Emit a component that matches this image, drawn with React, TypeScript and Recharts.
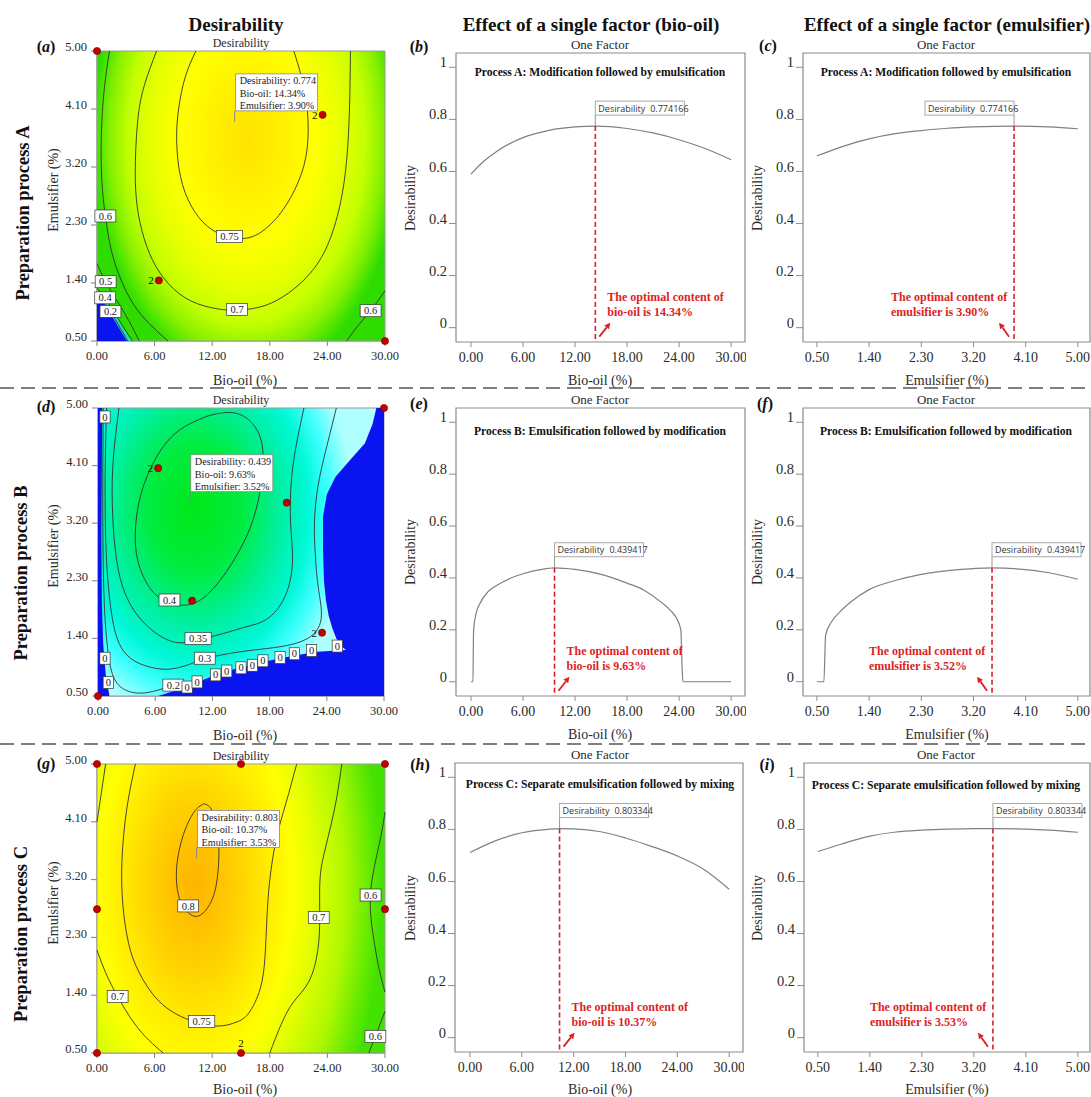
import React from "react";
import { ComposedChart, Line, Scatter, XAxis, YAxis, ReferenceLine } from "recharts";

const SERIF = '"Liberation Serif", "Times New Roman", serif';
const SANS = '"Open Sans", "DejaVu Sans", sans-serif';
const RED = "#dc1f26";
const INK = "#2b2b2b";

// axis ticks
const BIO_TICKS = [0, 6, 12, 18, 24, 30];
const EMU_TICKS = [0.5, 1.4, 2.3, 3.2, 4.1, 5.0];
const DES_TICKS = [0, 0.2, 0.4, 0.6, 0.8, 1];

// one-factor curves [factor, desirability]
const bioOilA = [[0, 0.59], [1.5, 0.64], [3, 0.678], [6, 0.73], [9, 0.758], [12, 0.771], [14.34, 0.774], [18, 0.765], [21, 0.748], [24, 0.722], [27, 0.688], [30, 0.645]];
const emulsA = [[0.5, 0.66], [0.8, 0.685], [1.1, 0.707], [1.4, 0.725], [1.85, 0.745], [2.3, 0.757], [2.75, 0.766], [3.2, 0.771], [3.9, 0.774], [4.5, 0.771], [5, 0.764]];
const bioOilB = [[0, 0], [0.22, 0], [0.3, 0.2], [0.6, 0.265], [1, 0.3], [2, 0.348], [3, 0.372], [4.5, 0.398], [6, 0.416], [8, 0.432], [9.63, 0.439], [12, 0.433], [15, 0.414], [18, 0.38], [20, 0.352], [22, 0.305], [23, 0.275], [23.7, 0.245], [24.2, 0.2], [24.35, 0.05], [24.45, 0], [30, 0]];
const emulsB = [[0.5, 0], [0.62, 0], [0.65, 0.18], [0.75, 0.23], [0.9, 0.27], [1.1, 0.31], [1.4, 0.355], [1.85, 0.39], [2.3, 0.414], [2.8, 0.429], [3.2, 0.436], [3.52, 0.439], [4, 0.434], [4.5, 0.42], [5, 0.395]];
const bioOilC = [[0, 0.711], [3, 0.757], [6, 0.787], [9, 0.8], [10.37, 0.803], [12, 0.802], [15, 0.792], [18, 0.767], [21, 0.735], [24, 0.698], [27, 0.648], [30, 0.57]];
const emulsC = [[0.5, 0.715], [0.9, 0.743], [1.4, 0.774], [1.85, 0.79], [2.3, 0.797], [2.75, 0.801], [3.2, 0.803], [3.53, 0.803], [4.1, 0.801], [4.5, 0.797], [5, 0.789]];

// contour lines [bio-oil, emulsifier]
const A_075 = [[10.3, 5], [9.2, 4.6], [8.5, 4.1], [8.3, 3.6], [8.7, 3.05], [9.8, 2.6], [11.5, 2.28], [13.5, 2.12], [15.2, 2.09], [17, 2.18], [19.2, 2.5], [21, 2.98], [21.9, 3.5], [21.9, 4.1], [21.3, 4.6], [20.5, 5]];
const A_070 = [[6.2, 5], [5.0, 4.5], [4.3, 4.0], [4.0, 3.3], [4.1, 2.7], [4.7, 2.2], [5.8, 1.75], [7.5, 1.38], [9.8, 1.12], [12.5, 1.0], [14.8, 0.98], [17.5, 1.05], [20, 1.25], [22.2, 1.55], [24, 1.98], [25.3, 2.6], [26, 3.3], [26.3, 4.1], [26.4, 5]];
const A_060 = [[1.3, 5], [0.75, 4.4], [0.45, 3.7], [0.5, 3.0], [0.87, 2.44], [1.5, 1.9], [2.5, 1.45], [3.8, 1.07], [5.5, 0.76], [7.4, 0.5]];
const A_060b = [[26, 0.5], [27.2, 0.74], [28.5, 0.97], [30, 1.28]];
const A_050 = [[0, 1.7], [0.9, 1.42], [2.1, 1.12], [3.3, 0.82], [4.4, 0.5]];
const A_040 = [[0, 1.32], [0.85, 1.17], [1.9, 0.92], [2.9, 0.68], [3.7, 0.5]];
const A_020 = [[0.3, 1.22], [1.4, 0.96], [2.4, 0.71], [3.2, 0.5]];
const A_band = [[0, 0.5], [0, 1.3], [0.85, 1.16], [1.9, 0.9], [2.9, 0.66], [3.6, 0.5]];
const A_zero = [[0, 0.5], [0, 1.2], [0.3, 1.19], [1.3, 0.95], [2.3, 0.7], [3.1, 0.5]];

const B_040 = [[11.4, 4.87], [8.5, 4.65], [6.2, 4.25], [4.5, 3.65], [3.9, 3.0], [4.4, 2.5], [5.8, 2.12], [7.5, 1.96], [9.2, 1.92], [11.2, 2.05], [13.5, 2.45], [15.6, 3.0], [16.8, 3.55], [17.3, 4.1], [17, 4.55], [15.5, 4.85], [13.5, 4.93], [11.4, 4.87]];
const B_035 = [[2.2, 5], [1.6, 4.2], [1.5, 3.5], [1.8, 2.8], [2.6, 2.2], [4.2, 1.75], [6.5, 1.44], [8.6, 1.33], [10.5, 1.38], [13, 1.47], [15.5, 1.58], [17.7, 1.7], [19.6, 2.05], [20.4, 2.6], [20.2, 3.2], [20.3, 3.9], [20.9, 4.5], [21.6, 5]];
const B_030 = [[0.9, 5], [0.75, 4], [0.8, 3], [1.1, 2.2], [1.9, 1.45], [3.5, 1.08], [5.5, 0.95], [7.5, 0.92], [9.5, 0.99], [11.2, 1.08], [14, 1.17], [17, 1.23], [19.5, 1.28], [22, 1.4], [23.4, 1.7], [23.1, 2.2], [22.8, 2.7], [22.7, 3.2], [23.1, 3.8], [24, 4.4], [25, 5]];
const B_020 = [[0.55, 5], [0.5, 3.5], [0.6, 2.2], [0.9, 1.4], [1.5, 0.85], [2.8, 0.6], [5, 0.55], [7.9, 0.67]];
const B_zeroLeft = [[0, 5], [0.45, 5], [0.4, 4], [0.35, 3], [0.4, 2], [0.55, 1.3], [0.8, 0.85], [1.2, 0.5], [0, 0.5]];
const B_zeroRight = [[29.2, 5], [30, 5], [30, 0.5], [6.3, 0.5], [8.5, 0.6], [10.5, 0.72], [12.5, 0.84], [14.5, 0.93], [17.5, 1.04], [20.5, 1.13], [23, 1.19], [26, 1.22], [25.6, 1.27], [25.0, 1.4], [24.6, 1.55], [24.2, 1.75], [23.9, 2.0], [23.7, 2.3], [23.6, 2.8], [23.6, 3.3], [24.0, 3.65], [24.9, 3.92], [26.4, 4.18], [28.0, 4.45], [28.8, 4.75], [29.2, 5]];

const C_080 = [[11.1, 4.38], [10.1, 4.25], [9.0, 3.9], [8.3, 3.4], [8.5, 2.95], [9.4, 2.7], [10.5, 2.63], [11.6, 2.78], [12.4, 3.1], [12.7, 3.6], [12.5, 4.0], [11.9, 4.3], [11.1, 4.38]];
const C_075 = [[4.0, 5], [3.1, 4.3], [2.6, 3.5], [2.7, 2.8], [3.3, 2.2], [4.4, 1.75], [6.5, 1.3], [9.5, 1.02], [12.5, 0.92], [14.5, 0.98], [15.8, 1.12], [17, 1.5], [17.5, 2.0], [17.7, 2.6], [18.0, 3.2], [18.7, 3.85], [19.7, 4.4], [20.8, 5]];
const C_070a = [[0.9, 5], [0.45, 4.55], [0, 4.1]];
const C_070b = [[0, 2.1], [0.9, 1.75], [2.15, 1.38], [3.8, 0.98], [5.4, 0.7], [6.9, 0.5]];
const C_070c = [[18, 0.5], [19.2, 0.95], [20.5, 1.3], [22.1, 1.62], [23, 2.1], [23.2, 2.6], [23.2, 3.1], [23.5, 3.5], [24.3, 4.0], [25, 4.5], [25.5, 5]];
const C_060a = [[30, 4.25], [29.4, 3.75], [28.5, 3.0], [28.8, 2.3], [29.4, 1.8], [30, 1.45]];
const C_060b = [[28.3, 0.5], [29.0, 0.76], [30, 1.15]];

// contour labels [bio-oil, emulsifier, text]
const labelsA: [number, number, string][] = [
  [13.8, 2.12, "0.75"], [14.6, 0.99, "0.7"], [0.87, 2.44, "0.6"], [0.9, 1.42, "0.5"],
  [0.85, 1.17, "0.4"], [1.4, 0.96, "0.2"], [28.5, 0.97, "0.6"],
];
const labelsB: [number, number, string][] = [
  [7.5, 2.0, "0.4"], [10.5, 1.4, "0.35"], [11.2, 1.09, "0.3"], [7.9, 0.67, "0.2"],
  [0.73, 4.86, "0"], [0.73, 1.09, "0"], [1.08, 0.71, "0"], [9.35, 0.64, "0"], [10.4, 0.72, "0"],
  [12.35, 0.83, "0"], [13.5, 0.89, "0"], [15.0, 0.94, "0"], [16.2, 0.98, "0"], [17.3, 1.05, "0"],
  [19.1, 1.1, "0"], [20.6, 1.16, "0"], [22.4, 1.21, "0"], [25.1, 1.28, "0"],
];
const labelsC: [number, number, string][] = [[9.5, 2.79, "0.8"], [10.9, 0.99, "0.75"], [2.15, 1.38, "0.7"], [23.1, 2.61, "0.7"], [28.5, 2.96, "0.6"], [29.0, 0.76, "0.6"]];

// design points [bio-oil, emulsifier, replicate mark, mark position]
const designA: [number, number, string?, string?][] = [[0, 5], [23.5, 4.01, "2", "left"], [6.44, 1.44, "2", "left"], [30, 0.5]];
const designB: [number, number, string?, string?][] = [[0, 0.5], [30, 5], [6.31, 4.06, "2", "left"], [19.8, 3.52], [9.87, 1.99], [23.5, 1.49, "2", "left"]];
const designC: [number, number, string?, string?][] = [[0, 5], [15, 5], [30, 5], [0, 2.74], [30, 2.74], [0, 0.5], [15, 0.5, "2", "top"]];

type Pt = { x: number; y: number; t?: string; n?: string; pos?: string };
const pts = (a: number[][]): Pt[] => a.map(([x, y]) => ({ x, y }));

const NoDot = () => <g />;

function ContourLabel(p: any) {
  const t: string = p.payload.t;
  const w = t.length * 5.3 + 5;
  return (
    <g>
      <rect x={p.cx - w / 2} y={p.cy - 6} width={w} height={12} fill="#fff" stroke="#333" strokeWidth={0.7} />
      <text x={p.cx} y={p.cy + 3.6} textAnchor="middle" fontSize={10.5} fontFamily={SERIF} fill="#222">{t}</text>
    </g>
  );
}

function DesignPoint(p: any) {
  const { n, pos } = p.payload;
  return (
    <g>
      <circle cx={p.cx} cy={p.cy} r={3.6} fill="#c40000" stroke="#6b0000" strokeWidth={0.6} />
      {n && (
        <text x={pos === "top" ? p.cx : p.cx - 5} y={pos === "top" ? p.cy - 6 : p.cy + 4} textAnchor={pos === "top" ? "middle" : "end"} fontSize={11} fontFamily={SERIF} fill="#111">{n}</text>
      )}
    </g>
  );
}

function optBox(lines: string[]) {
  return (p: any) => (
    <g>
      <line x1={p.cx} y1={p.cy} x2={p.cx} y2={p.cy - 11} stroke="#888" strokeWidth={1} />
      <rect x={p.cx + 1} y={p.cy - 48} width={82} height={37} fill="#fff" stroke="#888" strokeWidth={0.8} />
      {lines.map((l, i) => (
        <text key={i} x={p.cx + 5} y={p.cy - 37.5 + i * 12.4} fontSize={10.2} fontFamily={SERIF} fill="#222">{l}</text>
      ))}
    </g>
  );
}

function peakBox(val: string, align: "start" | "end") {
  return (p: any) => {
    const w = 89, h = 14;
    const bx = align === "start" ? p.cx : p.cx - w;
    return (
      <g>
        <line x1={p.cx} y1={p.cy} x2={p.cx} y2={p.cy - 11} stroke="#999" strokeWidth={1} />
        <rect x={bx} y={p.cy - 11 - h} width={w} height={h} fill="#fff" stroke="#aaa" strokeWidth={1} />
        <text x={bx + 3} y={p.cy - 14.5} fontSize={9} fontFamily={SANS} fill="#333">
          Desirability<tspan dx={5}>{val}</tspan>
        </text>
      </g>
    );
  };
}

function noteShape(lines: string[], side: "left" | "right") {
  return (p: any) => {
    const { cx, cy } = p;
    const tx = side === "right" ? cx + 12 : cx - 123;
    const x1 = side === "right" ? cx + 4 : cx - 5;
    const x2 = side === "right" ? cx + 15 : cx - 15;
    const y1 = cy + 9, y2 = cy - 5;
    const dx = x2 - x1, dy = y2 - y1, L = Math.hypot(dx, dy);
    const ux = dx / L, uy = dy / L;
    const bx = x2 - ux * 6, by = y2 - uy * 6;
    const head = `${x2},${y2} ${bx - uy * 3},${by + ux * 3} ${bx + uy * 3},${by - ux * 3}`;
    return (
      <g>
        {lines.map((l, i) => (
          <text key={i} x={tx} y={cy - 27 + i * 15} fill={RED} fontSize={12} fontWeight={700} fontFamily={SERIF}>{l}</text>
        ))}
        <line x1={x1} y1={y1} x2={bx} y2={by} stroke={RED} strokeWidth={1.8} />
        <polygon points={head} fill={RED} />
      </g>
    );
  };
}

type Grad = { cx: number; cy: number; r: number; sy: number; stops: [number, string][] };

const GRAD_A: Grad = { cx: 0.52, cy: 0.3, r: 0.54, sy: 1.55, stops: [[0, "#ffe200"], [0.22, "#fff000"], [0.44, "#ffff00"], [0.62, "#e6ff00"], [0.76, "#c4ff00"], [0.88, "#86f000"], [0.97, "#3ee200"], [1, "#2edc00"]] };
const GRAD_B: Grad = { cx: 0.34, cy: 0.35, r: 0.55, sy: 1.35, stops: [[0, "#00e818"], [0.3, "#00ec40"], [0.42, "#00ee70"], [0.55, "#00f0a4"], [0.72, "#00f8d8"], [0.85, "#40ffff"], [1, "#b0ffff"]] };
const GRAD_C: Grad = { cx: 0.34, cy: 0.42, r: 0.65, sy: 1.9, stops: [[0, "#ffb400"], [0.11, "#ffc000"], [0.25, "#ffd400"], [0.38, "#ffea00"], [0.52, "#ffff00"], [0.62, "#e8ff00"], [0.8, "#b0f800"], [0.95, "#5ce800"], [1, "#44e200"]] };

function ContourPanel(props: {
  left: number; top: number; w: number; h: number; id: string; grad: Grad;
  fills: { d: number[][]; color: string }[]; lines: number[][][];
  labels: [number, number, string][]; points: [number, number, string?, string?][];
  opt: [number, number]; optLines: string[];
}) {
  const { left, top, w, h, id, grad } = props;
  const frame = pts([[0, 0.5], [30, 0.5], [30, 5], [0, 5], [0, 0.5]]);
  const labelData: Pt[] = props.labels.map(([x, y, t]) => ({ x, y, t }));
  const pointData: Pt[] = props.points.map(([x, y, n, pos]) => ({ x, y, n, pos }));
  return (
    <div style={{ position: "absolute", left: left - 60, top: top - 10 }}>
      <ComposedChart width={60 + w + 14} height={10 + h + 30} margin={{ top: 10, right: 14, bottom: 0, left: 0 }}>
        <defs>
          <radialGradient id={id} cx={grad.cx} cy={grad.cy} r={grad.r}
            gradientTransform={`translate(${grad.cx} ${grad.cy}) scale(1 ${grad.sy}) translate(${-grad.cx} ${-grad.cy})`}>
            {grad.stops.map(([o, c]) => <stop key={o} offset={o} stopColor={c} />)}
          </radialGradient>
        </defs>
        <XAxis type="number" dataKey="x" domain={[0, 30]} ticks={BIO_TICKS} height={30} tickSize={5} tickMargin={5}
          axisLine={{ stroke: "#808080" }} tickLine={{ stroke: "#808080" }}
          tick={(p: any) => <text x={p.x} y={p.y} dy="0.75em" textAnchor="middle" fontSize={12.5} fontFamily={SERIF} fill={INK}>{Number(p.payload.value).toFixed(2)}</text>} />
        <YAxis type="number" dataKey="y" domain={[0.5, 5]} ticks={EMU_TICKS} width={60} tickSize={6} tickMargin={4}
          axisLine={{ stroke: "#808080" }} tickLine={{ stroke: "#808080" }}
          tick={(p: any) => <text x={p.x} y={p.y - 4} dy="0.35em" textAnchor="end" fontSize={12.5} fontFamily={SERIF} fill={INK}>{Number(p.payload.value).toFixed(2)}</text>} />
        <Scatter data={frame} line={{ fill: `url(#${id})`, stroke: "#9a9a9a", strokeWidth: 1 }} shape={NoDot} isAnimationActive={false} />
        {props.fills.map((f, i) => (
          <Scatter key={`f${i}`} data={pts(f.d)} line={{ fill: f.color, stroke: "none" }} shape={NoDot} isAnimationActive={false} />
        ))}
        {props.lines.map((l, i) => (
          <Scatter key={`l${i}`} data={pts(l)} line={{ stroke: "#333", strokeWidth: 0.9, fill: "none" }} lineJointType="natural" shape={NoDot} isAnimationActive={false} />
        ))}
        <Scatter data={labelData} shape={ContourLabel} isAnimationActive={false} />
        <Scatter data={pointData} shape={DesignPoint} isAnimationActive={false} />
        <Scatter data={[{ x: props.opt[0], y: props.opt[1] }]} shape={optBox(props.optLines)} isAnimationActive={false} />
      </ComposedChart>
    </div>
  );
}

const Y_DOM: [number, number] = [-0.055, 1.055];

function FactorPanel(props: {
  left: number; top: number; w: number; h: number; xDomain: [number, number]; xTicks: number[];
  data: number[][]; opt: number; peak: number; peakText: string; boxAlign: "start" | "end";
  note: string[]; noteSide: "left" | "right";
}) {
  const { left, top, w, h, xDomain } = props;
  const frame = pts([[xDomain[0], Y_DOM[0]], [xDomain[1], Y_DOM[0]], [xDomain[1], Y_DOM[1]], [xDomain[0], Y_DOM[1]], [xDomain[0], Y_DOM[0]]]);
  return (
    <div style={{ position: "absolute", left: left - 50, top: top - 5 }}>
      <ComposedChart width={50 + w + 1} height={5 + h + 30} margin={{ top: 5, right: 1, bottom: 0, left: 0 }}>
        <XAxis type="number" dataKey="x" domain={xDomain} ticks={props.xTicks} height={30} tickSize={5} tickMargin={4}
          axisLine={false} tickLine={{ stroke: "#8c8c8c" }}
          tick={(p: any) => <text x={p.x} y={p.y} dy="0.75em" textAnchor="middle" fontSize={14} fontFamily={SERIF} fill={INK}>{Number(p.payload.value).toFixed(2)}</text>} />
        <YAxis type="number" dataKey="y" domain={Y_DOM} ticks={DES_TICKS} width={50} tickSize={7} tickMargin={2}
          axisLine={false} tickLine={{ stroke: "#8c8c8c" }}
          tick={(p: any) => <text x={p.x} y={p.y - 5} dy="0.35em" textAnchor="end" fontSize={14.5} fontFamily={SERIF} fill={INK}>{String(p.payload.value)}</text>} />
        <Scatter data={frame} line={{ stroke: "#8c8c8c", strokeWidth: 1.2, fill: "none" }} shape={NoDot} isAnimationActive={false} />
        <Line data={pts(props.data)} dataKey="y" type="monotone" stroke="#808080" strokeWidth={1.2} dot={false} activeDot={false} isAnimationActive={false} />
        <ReferenceLine segment={[{ x: props.opt, y: props.peak }, { x: props.opt, y: Y_DOM[0] }]} stroke={RED} strokeWidth={1.6} strokeDasharray="5 3" />
        <Scatter data={[{ x: props.opt, y: props.peak }]} shape={peakBox(props.peakText, props.boxAlign)} isAnimationActive={false} />
        <Scatter data={[{ x: props.opt, y: 0 }]} shape={noteShape(props.note, props.noteSide)} isAnimationActive={false} />
      </ComposedChart>
    </div>
  );
}

function Txt(props: { x: number; y: number; size: number; bold?: boolean; rotate?: number; color?: string; children: React.ReactNode }) {
  return (
    <div style={{
      position: "absolute", left: props.x, top: props.y,
      transform: `translate(-50%, -50%)${props.rotate ? ` rotate(${props.rotate}deg)` : ""}`,
      fontFamily: SERIF, fontSize: props.size, fontWeight: props.bold ? 700 : 400,
      color: props.color ?? INK, whiteSpace: "nowrap", lineHeight: 1,
    }}>{props.children}</div>
  );
}

const Letter = ({ x, y, c }: { x: number; y: number; c: string }) => (
  <Txt x={x} y={y} size={16} bold color="#111">(<i>{c}</i>)</Txt>
);

const BIO_DOM: [number, number] = [-1.73, 31.6];
const EMU_DOM: [number, number] = [0.26, 5.21];

export default function App() {
  const rows = [
    { ct: 51, ch: 290, ft: 53, fh: 289 },
    { ct: 408, ch: 288, ft: 408, fh: 288 },
    { ct: 764, ch: 289, ft: 763, fh: 289 },
  ];
  return (
    <div style={{ position: "absolute", left: 0, top: 0, width: 1091, height: 1097, background: "#fff", overflow: "hidden" }}>
      {/* column headers */}
      <Txt x={236} y={24} size={19} bold color="#111">Desirability</Txt>
      <Txt x={591} y={24} size={19} bold color="#111">Effect of a single factor (bio-oil)</Txt>
      <Txt x={947} y={24} size={19} bold color="#111">Effect of a single factor (emulsifier)</Txt>

      {/* row labels */}
      <Txt x={23} y={213} size={18.5} bold rotate={-90} color="#111">Preparation process A</Txt>
      <Txt x={21} y={573} size={18.5} bold rotate={-90} color="#111">Preparation process B</Txt>
      <Txt x={21} y={934} size={18.5} bold rotate={-90} color="#111">Preparation process C</Txt>

      <svg width={1091} height={1097} style={{ position: "absolute", left: 0, top: 0, pointerEvents: "none" }}>
        <line x1={0} y1={388} x2={1091} y2={388} stroke="#7f7f7f" strokeWidth={2} strokeDasharray="14 7" />
        <line x1={0} y1={744} x2={1091} y2={744} stroke="#7f7f7f" strokeWidth={2} strokeDasharray="14 7" />
      </svg>

      {/* contour panels */}
      <ContourPanel left={97} top={51} w={288} h={290} id="gA" grad={GRAD_A}
        fills={[{ d: A_band, color: "#22dcc8" }, { d: A_zero, color: "#0a14f0" }]}
        lines={[A_075, A_070, A_060, A_060b, A_050, A_040, A_020]}
        labels={labelsA} points={designA} opt={[14.34, 3.9]}
        optLines={["Desirability: 0.774", "Bio-oil: 14.34%", "Emulsifier: 3.90%"]} />
      <ContourPanel left={98} top={408} w={286} h={288} id="gB" grad={GRAD_B}
        fills={[{ d: B_zeroLeft, color: "#0a14f0" }, { d: B_zeroRight, color: "#0a14f0" }]}
        lines={[B_040, B_035, B_030, B_020]}
        labels={labelsB} points={designB} opt={[9.63, 3.52]}
        optLines={["Desirability: 0.439", "Bio-oil: 9.63%", "Emulsifier: 3.52%"]} />
      <ContourPanel left={97} top={764} w={288} h={289} id="gC" grad={GRAD_C}
        fills={[]}
        lines={[C_080, C_075, C_070a, C_070b, C_070c, C_060a, C_060b]}
        labels={labelsC} points={designC} opt={[10.37, 3.53]}
        optLines={["Desirability: 0.803", "Bio-oil: 10.37%", "Emulsifier: 3.53%"]} />

      {/* contour titles and axis labels */}
      {rows.map((r, i) => (
        <React.Fragment key={i}>
          <Txt x={241} y={r.ct - 8} size={12}>Desirability</Txt>
          <Txt x={54} y={r.ct + r.ch / 2 - 6} size={14} rotate={-90}>Emulsifier (%)</Txt>
          <Txt x={245} y={i === 2 ? 1090 : r.ct + r.ch + 40} size={14}>Bio-oil (%)</Txt>
          <Txt x={600} y={r.ft - 9} size={13}>One Factor</Txt>
          <Txt x={946} y={r.ft - 9} size={13}>One Factor</Txt>
          <Txt x={411} y={r.ft + r.fh / 2} size={14} rotate={-90}>Desirability</Txt>
          <Txt x={758} y={r.ft + r.fh / 2} size={14} rotate={-90}>Desirability</Txt>
          <Txt x={600} y={i === 2 ? 1090 : r.ft + r.fh + 39} size={14}>Bio-oil (%)</Txt>
          <Txt x={947} y={i === 2 ? 1090 : r.ft + r.fh + 39} size={14}>Emulsifier (%)</Txt>
        </React.Fragment>
      ))}

      <Letter x={46} y={47} c="a" />
      <Letter x={419} y={47} c="b" />
      <Letter x={768} y={46} c="c" />
      <Letter x={46} y={407} c="d" />
      <Letter x={419} y={404} c="e" />
      <Letter x={765} y={404} c="f" />
      <Letter x={46} y={764} c="g" />
      <Letter x={420} y={765} c="h" />
      <Letter x={767} y={765} c="i" />

      {/* one-factor panels */}
      <FactorPanel left={456} top={53} w={289} h={289} xDomain={BIO_DOM} xTicks={BIO_TICKS} data={bioOilA}
        opt={14.34} peak={0.774166} peakText="0.774166" boxAlign="start"
        note={["The optimal content of", "bio-oil is 14.34%"]} noteSide="right" />
      <FactorPanel left={803} top={53} w={287} h={289} xDomain={EMU_DOM} xTicks={EMU_TICKS} data={emulsA}
        opt={3.9} peak={0.774166} peakText="0.774166" boxAlign="end"
        note={["The optimal content of", "emulsifier is 3.90%"]} noteSide="left" />
      <FactorPanel left={456} top={408} w={289} h={288} xDomain={BIO_DOM} xTicks={BIO_TICKS} data={bioOilB}
        opt={9.63} peak={0.439417} peakText="0.439417" boxAlign="start"
        note={["The optimal content of", "bio-oil is 9.63%"]} noteSide="right" />
      <FactorPanel left={803} top={408} w={287} h={288} xDomain={EMU_DOM} xTicks={EMU_TICKS} data={emulsB}
        opt={3.52} peak={0.439417} peakText="0.439417" boxAlign="start"
        note={["The optimal content of", "emulsifier is 3.52%"]} noteSide="left" />
      <FactorPanel left={455} top={763} w={288} h={289} xDomain={BIO_DOM} xTicks={BIO_TICKS} data={bioOilC}
        opt={10.37} peak={0.803344} peakText="0.803344" boxAlign="start"
        note={["The optimal content of", "bio-oil is 10.37%"]} noteSide="right" />
      <FactorPanel left={804} top={763} w={286} h={289} xDomain={EMU_DOM} xTicks={EMU_TICKS} data={emulsC}
        opt={3.53} peak={0.803344} peakText="0.803344" boxAlign="start"
        note={["The optimal content of", "emulsifier is 3.53%"]} noteSide="left" />

      {/* process titles inside the one-factor frames */}
      <Txt x={600} y={73} size={11.6} bold color="#111">Process A: Modification followed by emulsification</Txt>
      <Txt x={946} y={73} size={11.6} bold color="#111">Process A: Modification followed by emulsification</Txt>
      <Txt x={600} y={432} size={11.6} bold color="#111">Process B: Emulsification followed by modification</Txt>
      <Txt x={946} y={432} size={11.6} bold color="#111">Process B: Emulsification followed by modification</Txt>
      <Txt x={600} y={785} size={11.6} bold color="#111">Process C: Separate emulsification followed by mixing</Txt>
      <Txt x={946} y={786} size={11.6} bold color="#111">Process C: Separate emulsification followed by mixing</Txt>
    </div>
  );
}
